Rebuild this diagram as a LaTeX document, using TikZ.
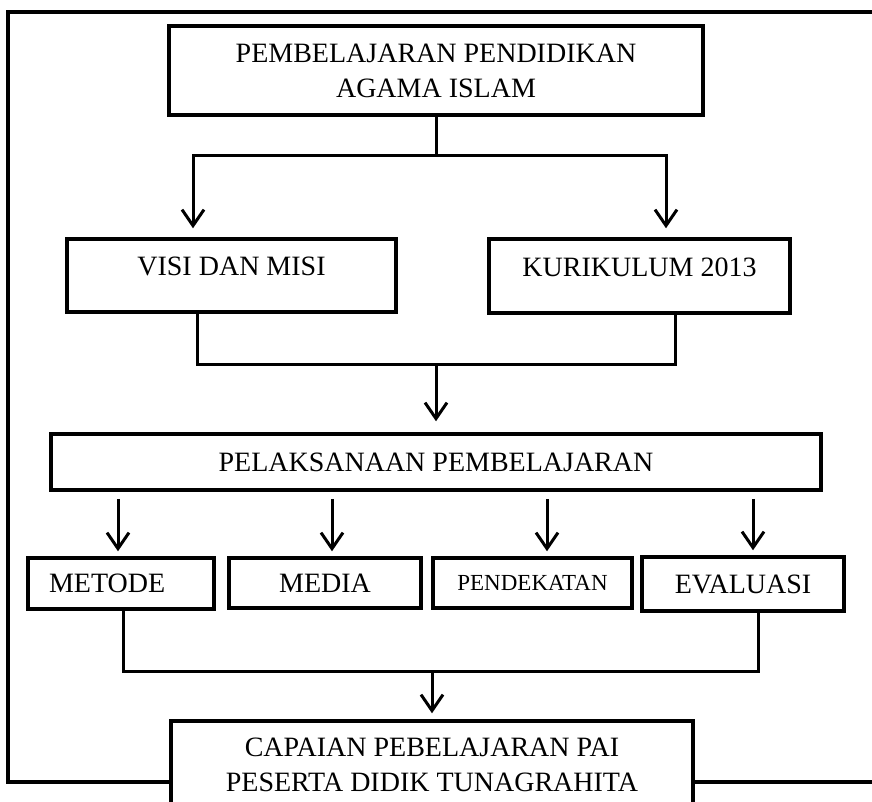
\documentclass[tikz,border=0pt]{standalone}
\usepackage{fontspec}
\setmainfont{Liberation Serif}
\usetikzlibrary{arrows.meta,positioning}

\tikzset{
  box/.style={draw, line width=3.5pt, align=center, inner sep=0pt, font=\fontsize{28}{35}\selectfont},
  line/.style={line width=3pt},
  arrow/.style={line width=3pt, -{Straight Barb[length=16pt,width=22pt]}},
  frame/.style={line width=3.5pt},
}

\begin{document}
\begin{tikzpicture}[x=1pt, y=-1pt]
  \useasboundingbox (0,0) rectangle (872,801);
  \clip (0,0) rectangle (872,801);

  % Top level
  \node[box, minimum width=534pt, minimum height=89pt] (pai) at (436,70.5) {PEMBELAJARAN PENDIDIKAN\\AGAMA ISLAM};

  % Vision and curriculum
  \node[box, minimum width=329pt, minimum height=73pt, text depth=18pt] (visi) at (231.5,275.5) {VISI DAN MISI};
  \node[box, minimum width=301pt, minimum height=74pt, text depth=18pt] (kurikulum) at (639.5,276) {KURIKULUM 2013};

  % Implementation
  \node[box, minimum width=770pt, minimum height=56pt] (pelaksanaan) at (436,462) {PELAKSANAAN PEMBELAJARAN};

  % Components
  \node[box, text width=144pt, inner xsep=21pt, align=left, minimum height=51pt] (metode) at (121,583.5) {METODE};
  \node[box, minimum width=192pt, minimum height=50pt] (media) at (325,583) {MEDIA};
  \node[box, minimum width=199pt, minimum height=50pt, font=\fontsize{23}{28}\selectfont] (pendekatan) at (532.5,583) {PENDEKATAN};
  \node[box, minimum width=202pt, minimum height=54pt] (evaluasi) at (743,584) {EVALUASI};

  % Outcome
  \node[box, minimum width=522pt, minimum height=88pt] (capaian) at (432,765) {CAPAIAN PEBELAJARAN PAI\\PESERTA DIDIK TUNAGRAHITA};

  % Connectors
  \coordinate (split) at (436,155);
  \draw[line] (pai.south) -- (split);
  \draw[arrow, shorten >=9pt] (split) -| (193,0 |- visi.north);
  \draw[arrow, shorten >=9pt] (split) -| (666,0 |- kurikulum.north);

  \coordinate (merge) at (436,364);
  \draw[line] (197,0 |- visi.south) |- (merge) -| (675,0 |- kurikulum.south);
  \draw[arrow, shorten >=11pt] (merge) -- (pelaksanaan.north);

  \foreach \n/\x in {metode/118, media/332, pendekatan/547, evaluasi/753}
    \draw[arrow, shorten <=7pt, shorten >=5pt] (\x,0 |- pelaksanaan.south) -- (\x,0 |- \n.north);

  \coordinate (gather) at (432,671);
  \draw[line] (123,0 |- metode.south) |- (gather) -| (758,0 |- evaluasi.south);
  \draw[arrow, shorten >=6pt] (gather) -- (capaian.north);

  % Outer frame
  \draw[frame] (capaian.west |- 0,782) -| (8,12) -- (890,12);
  \draw[frame] (capaian.east |- 0,782) -- (890,782);
\end{tikzpicture}
\end{document}
